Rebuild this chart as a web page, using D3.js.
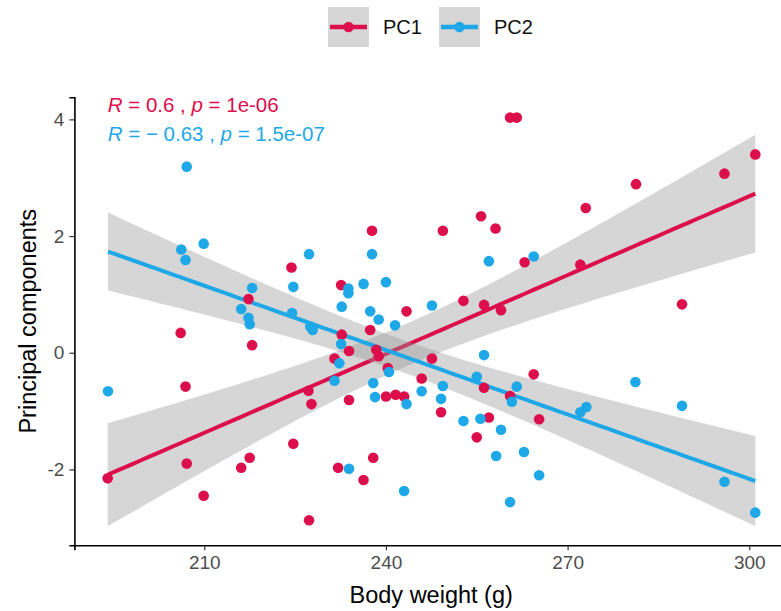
<!DOCTYPE html>
<html>
<head>
<meta charset="utf-8">
<script src="https://cdn.jsdelivr.net/npm/d3@7"></script>
<style>
  body { margin: 0; background: #fff; }
  text { font-family: "Liberation Sans", Arial, sans-serif; }
</style>
</head>
<body>
<svg id="chart" width="781" height="611"></svg>
<script>
// Body weight (g) and principal component scores
const weightPC1 = [194.05, 206.1, 206.9, 207.1, 209.9, 217.3, 217.9, 217.5, 216.1, 224.4,
  224.7, 227.2, 227.7, 227.3, 231.5, 232.7, 232.6, 233.9, 233.9, 232.1,
  236.3, 237.9, 237.7, 237.4, 238.4, 238.8, 240.3, 240.0, 241.6, 243.0,
  243.4, 245.9, 247.6, 249.4, 249.1, 252.8, 255.0, 255.7, 256.2, 256.2,
  257.0, 258.1, 259.0, 260.5, 261.6, 260.5, 262.9, 264.4, 265.3, 272.1,
  273.0, 281.3, 288.9, 295.9, 301.0];
const scorePC1 = [-2.15, 0.34, -0.58, -1.90, -2.45, 0.92, 0.13, -1.80, -1.97, 1.46,
  -1.56, -0.65, -0.88, -2.87, -0.10, 0.31, 1.16, 0.03, -0.81, -1.97,
  -2.18, -1.80, 2.09, 0.39, 0.05, -0.06, -0.26, -0.75, -0.72, -0.75,
  0.71, -0.44, -0.10, 2.09, -1.02, 0.89, -1.45, 2.34, -0.60, 0.82,
  -1.11, 2.13, 0.73, 4.03, 4.03, -0.74, 1.55, -0.37, -1.14, 1.51,
  2.48, 2.89, 0.83, 3.07, 3.40];

const weightPC2 = [194.1, 207.1, 206.2, 206.9, 209.9, 217.9, 216.1, 217.3, 217.5, 224.5,
  224.7, 227.3, 227.5, 227.9, 232.6, 232.3, 231.5, 233.9, 233.8, 233.8,
  232.7, 236.3, 237.7, 240.0, 237.4, 238.8, 241.5, 237.9, 238.2, 240.5,
  243.4, 243.0, 245.9, 247.6, 249.4, 249.1, 252.8, 255.0, 255.6, 256.2,
  257.0, 258.2, 259.0, 260.5, 260.8, 261.6, 262.8, 264.4, 265.3, 272.1,
  273.1, 281.2, 288.9, 295.9, 301.0];
const scorePC2 = [-0.66, 3.19, 1.77, 1.59, 1.87, 1.11, 0.75, 0.60, 0.49, 0.68,
  1.13, 1.69, 0.45, 0.39, 0.15, -0.18, -0.48, -1.99, 1.10, 1.02,
  0.79, 1.18, 1.69, 1.21, 0.71, 0.57, 0.47, -0.52, -0.76, -0.33,
  -0.88, -2.37, -0.66, 0.81, -0.57, -0.79, -1.17, -0.41, -1.13, -0.04,
  1.57, -1.77, -1.32, -2.56, -0.84, -0.58, -1.70, 1.65, -2.10, -1.02,
  -0.93, -0.50, -0.91, -2.21, -2.74];

const seriesNames = ["PC1", "PC2"];
const seriesColors = ["#DC0E4B", "#1FA8E8"];
const corrR = ["0.6", "\u2212 0.63"];
const corrP = ["1e-06", "1.5e-07"];

const xTicks = [210, 240, 270, 300];
const yTicks = [-2, 0, 2, 4];
const xDomain = [188.55, 306.4];
const yDomain = [-3.3, 4.38];

const series = seriesNames.map((name, i) => ({
  name,
  color: seriesColors[i],
  xs: i === 0 ? weightPC1 : weightPC2,
  ys: i === 0 ? scorePC1 : scorePC2
}));

const svg = d3.select("#chart");
const W = 781, H = 611;
const panel = { left: 74.4, right: 788, top: 97.2, bottom: 545.3 };

const x = d3.scaleLinear().domain(xDomain).range([panel.left, panel.right]);
const y = d3.scaleLinear().domain(yDomain).range([panel.bottom, panel.top]);

// Ordinary least squares fit with 95% confidence band
const T975 = 2.0057; // t quantile, df = 53
function fitLine(xs, ys) {
  const n = xs.length;
  const mx = d3.mean(xs), my = d3.mean(ys);
  let sxx = 0, sxy = 0;
  for (let i = 0; i < n; i++) {
    sxx += (xs[i] - mx) ** 2;
    sxy += (xs[i] - mx) * (ys[i] - my);
  }
  const b = sxy / sxx, a = my - b * mx;
  let rss = 0;
  for (let i = 0; i < n; i++) rss += (ys[i] - a - b * xs[i]) ** 2;
  const s = Math.sqrt(rss / (n - 2));
  const [lo, hi] = d3.extent(xs);
  return d3.range(80).map(k => {
    const xv = lo + (hi - lo) * k / 79;
    const fit = a + b * xv;
    const se = s * Math.sqrt(1 / n + (xv - mx) ** 2 / sxx);
    return { x: xv, fit, lo: fit - T975 * se, hi: fit + T975 * se };
  });
}

svg.append("defs").append("clipPath").attr("id", "panelClip")
  .append("rect").attr("x", panel.left).attr("y", panel.top - 20)
  .attr("width", W - panel.left).attr("height", panel.bottom - panel.top + 20);

const plot = svg.append("g").attr("clip-path", "url(#panelClip)");

const area = d3.area().x(d => x(d.x)).y0(d => y(d.lo)).y1(d => y(d.hi));
const line = d3.line().x(d => x(d.x)).y(d => y(d.fit));

series.forEach(s => {
  const band = fitLine(s.xs, s.ys);
  plot.append("path").datum(band).attr("d", area)
    .attr("fill", "#999999").attr("fill-opacity", 0.4);
  plot.append("path").datum(band).attr("d", line)
    .attr("fill", "none").attr("stroke", s.color).attr("stroke-width", 4);
});

series.forEach(s => {
  plot.append("g").selectAll("circle")
    .data(s.xs.map((xv, i) => [xv, s.ys[i]]))
    .join("circle")
    .attr("cx", d => x(d[0]))
    .attr("cy", d => y(d[1]))
    .attr("r", 5.3)
    .attr("fill", s.color);
});

// Axes
const xAxis = svg.append("g").attr("transform", `translate(0,${panel.bottom})`)
  .call(d3.axisBottom(x).tickValues(xTicks).tickSizeOuter(0).tickSize(5).tickPadding(5));
const yAxis = svg.append("g").attr("transform", `translate(${panel.left},0)`)
  .call(d3.axisLeft(y).tickValues(yTicks).tickSizeOuter(0).tickSize(5).tickPadding(5)
    .tickFormat(d => d < 0 ? "-" + Math.abs(d) : String(d)));

[xAxis, yAxis].forEach(g => {
  g.select(".domain").attr("stroke", "#000").attr("stroke-width", 1.6);
  g.selectAll(".tick line").attr("stroke", "#333").attr("stroke-width", 1.2);
  g.selectAll(".tick text").attr("fill", "#4D4D4D").attr("font-size", 19)
    .attr("font-family", "Liberation Sans, Arial, sans-serif");
});

svg.append("text")
  .attr("x", (panel.left + panel.right) / 2).attr("y", 603)
  .attr("text-anchor", "middle").attr("font-size", 23.5).attr("fill", "#000")
  .text("Body weight (g)");

svg.append("text")
  .attr("transform", `translate(36,${(panel.top + panel.bottom) / 2}) rotate(-90)`)
  .attr("text-anchor", "middle").attr("font-size", 23.5).attr("fill", "#000")
  .text("Principal components");

// Correlation annotations
series.forEach((s, i) => {
  const t = svg.append("text")
    .attr("x", x(d3.min(weightPC1)))
    .attr("y", 112 + i * 28.5)
    .attr("font-size", 20.5).attr("fill", s.color)
    .attr("xml:space", "preserve");
  t.append("tspan").attr("font-style", "italic").text("R");
  t.append("tspan").text(" = " + corrR[i] + " , ");
  t.append("tspan").attr("font-style", "italic").text("p");
  t.append("tspan").text(" = " + corrP[i]);
});

// Legend
const legend = svg.append("g");
const keyX = [328, 439];
series.forEach((s, i) => {
  const g = legend.append("g").attr("transform", `translate(${keyX[i]},7)`);
  g.append("rect").attr("width", 41).attr("height", 40).attr("fill", "#D6D6D6");
  g.append("line").attr("x1", 2).attr("x2", 39).attr("y1", 20).attr("y2", 20)
    .attr("stroke", s.color).attr("stroke-width", 4.5);
  g.append("circle").attr("cx", 20.5).attr("cy", 20).attr("r", 5.3).attr("fill", s.color);
  g.append("text").attr("x", 55).attr("y", 27).attr("font-size", 20).attr("fill", "#111")
    .text(s.name);
});
</script>
</body>
</html>
